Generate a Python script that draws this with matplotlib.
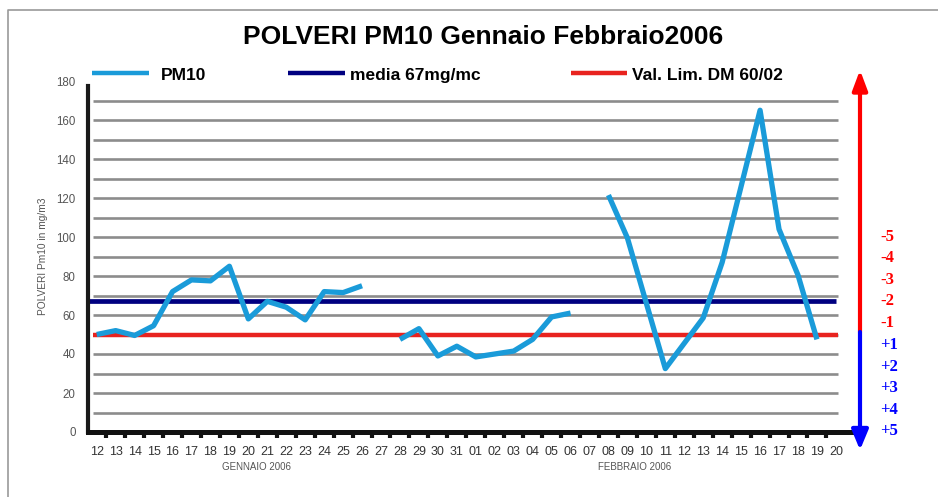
import matplotlib
matplotlib.use("Agg")
import matplotlib.pyplot as plt
import numpy as np

plt.rcParams['font.family'] = ['Liberation Sans', 'DejaVu Sans']

days = ['12', '13', '14', '15', '16', '17', '18', '19', '20', '21', '22', '23', '24', '25', '26',
        '27', '28', '29', '30', '31',
        '01', '02', '03', '04', '05', '06', '07', '08', '09', '10', '11', '12', '13', '14', '15',
        '16', '17', '18', '19', '20']
pm10 = [50, 52, 49.5, 54.5, 72, 78, 77.5, 85, 58, 67, 64, 57.5, 72, 71.5, 75,
        np.nan, 47.5, 53, 39, 44,
        38.5, 40, 41.5, 47.5, 59, 61, np.nan, 121.5, 99.5, 66, 32.5, 45.5, 58.5, 87, 126,
        165, 104, 80.5, 47.5, np.nan]
media = 67
limite = 50
grid_levels = list(range(10, 180, 10))
yticks = list(range(0, 200, 20))
scale_neg = ['-5', '-4', '-3', '-2', '-1']
scale_pos = ['+1', '+2', '+3', '+4', '+5']

W, H = 938, 497
fig = plt.figure(figsize=(W / 100, H / 100), dpi=100)

# main axes (pixel box 88..852 x 81..432)
ax = fig.add_axes([88 / W, 1 - 432 / H, (852 - 88) / W, (432 - 81) / H])
x = np.arange(len(days))
ax.set_xlim(-0.46, 39.85)
ax.set_ylim(0, 180)

ax.hlines(grid_levels, -0.2, 39.12, color='#8c8c8c', lw=1.9, zorder=1)
ax.hlines(limite, -0.2, 39.12, color='#e8231f', lw=3.2, zorder=2)
ax.hlines(media, -0.46, 39.0, color='#000080', lw=3.4, zorder=2)
ax.plot(x, pm10, color='#1a9bd9', lw=3.8, solid_capstyle='butt', solid_joinstyle='round', zorder=3)

for s in ['top', 'right']:
    ax.spines[s].set_visible(False)
ax.spines['left'].set_linewidth(3)
ax.spines['left'].set_bounds(0, 177.5)
ax.spines['left'].set_color('#1a1a1a')
ax.spines['bottom'].set_linewidth(3.6)
ax.spines['bottom'].set_color('#111111')

ax.set_yticks(yticks)
ax.set_yticklabels([str(v) for v in yticks], fontsize=8.3, color='#555555')
ax.tick_params(axis='y', length=0, pad=9)

ax.set_xticks(x)
ax.set_xticklabels(days, fontsize=9, color='#333333')
ax.tick_params(axis='x', which='major', length=0, pad=10)
ax.set_xticks(x[:-1] + 0.5, minor=True)
ax.tick_params(axis='x', which='minor', length=4.5, width=3, color='#111111', direction='out')

ax.set_ylabel('POLVERI Pm10 in mg/m3', fontsize=7.3, color='#555555')
ax.yaxis.set_label_coords(-0.052, 0.5)

# overlay in pixel coordinates for title, legend, arrows, frame
ov = fig.add_axes([0, 0, 1, 1], facecolor='none')
ov.set_xlim(0, W)
ov.set_ylim(H, 0)
ov.axis('off')

ov.plot([8, 8, W], [H, 10, 10], color='#9a9a9a', lw=1.2)

ov.text(483, 37, 'POLVERI PM10 Gennaio Febbraio2006', fontsize=19, fontweight='bold',
        ha='center', va='center')

leg = [('PM10', '#1a9bd9', 92, 149, 161), ('media 67mg/mc', '#000080', 288, 345, 350),
       ('Val. Lim. DM 60/02', '#e8231f', 571, 627, 632)]
for label, col, x0, x1, xt in leg:
    ov.plot([x0, x1], [73, 73], color=col, lw=3.2, solid_capstyle='butt')
    ov.text(xt, 80, label, fontsize=12.5, fontweight='bold', ha='left', va='baseline')

ov.text(256, 467, 'GENNAIO 2006', fontsize=7, color='#555555', ha='center', va='center')
ov.text(635, 467, 'FEBBRAIO 2006', fontsize=7, color='#555555', ha='center', va='center')

# right arrows
ov.annotate('', xy=(860, 70), xytext=(860, 332),
            arrowprops=dict(arrowstyle='-|>,head_length=1.2,head_width=0.45', color='#ff0000', lw=3,
                            shrinkA=0, shrinkB=0))
ov.annotate('', xy=(860, 450), xytext=(860, 332),
            arrowprops=dict(arrowstyle='-|>,head_length=1.2,head_width=0.5', color='#0000ff', lw=3,
                            shrinkA=0, shrinkB=0))

ys_neg = [237, 258, 280, 301, 323]
ys_pos = [345, 367, 388, 410, 431]
for t, yy in zip(scale_neg, ys_neg):
    ov.text(880, yy, t, color='#ff0000', fontsize=12, fontweight='bold',
            family=['Liberation Serif', 'DejaVu Serif'], ha='left', va='center')
for t, yy in zip(scale_pos, ys_pos):
    ov.text(880, yy, t, color='#0000ff', fontsize=12, fontweight='bold',
            family=['Liberation Serif', 'DejaVu Serif'], ha='left', va='center')

fig.savefig('out.png', dpi=100, facecolor='white')
